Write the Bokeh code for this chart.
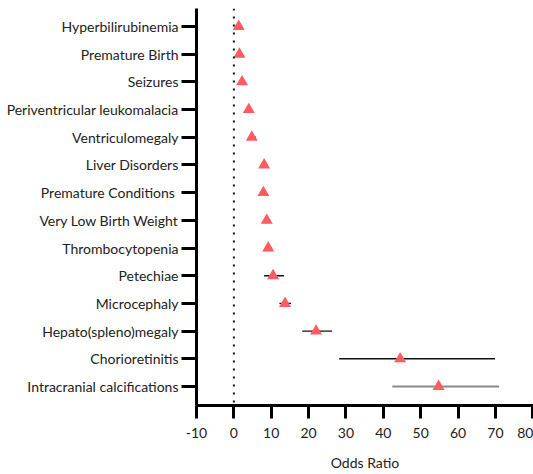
from bokeh.plotting import figure
from bokeh.models import ColumnDataSource, Range1d, FixedTicker, Span
from bokeh.embed import file_html
from bokeh.resources import INLINE

# ---- data (top to bottom) ----
categories = [
    "Hyperbilirubinemia", "Premature Birth", "Seizures",
    "Periventricular leukomalacia", "Ventriculomegaly", "Liver Disorders",
    "Premature Conditions ", "Very Low Birth Weight", "Thrombocytopenia",
    "Petechiae", "Microcephaly", "Hepato(spleno)megaly", "Chorioretinitis",
    "Intracranial calcifications",
]
odds_ratio = [1.3, 1.5, 2.2, 4.0, 4.8, 8.1, 7.9, 8.8, 9.2, 10.5, 13.7, 22.0, 44.5, 54.8]
ci_low = [1.1, 1.3, 1.9, 3.4, 4.0, 7.3, 7.1, 8.0, 8.4, 8.1, 12.2, 18.3, 28.2, 42.4]
ci_high = [1.5, 1.7, 2.5, 4.6, 5.9, 8.9, 8.7, 9.6, 10.0, 13.4, 15.3, 26.3, 69.9, 71.0]
x_ticks = [-10, 0, 10, 20, 30, 40, 50, 60, 70, 80]
x_tick_labels = ["-10", "0", "10", "20", "30", "40", "50", "60", "70", "80"]

n = len(categories)
ypos = [n - 1 - i for i in range(n)]
bar_colors = ["#111111"] * (n - 1) + ["#8a8a8a"]
bar_widths = [1.3] * (n - 2) + [1.4, 2.2]

src = ColumnDataSource(dict(y=ypos, orr=odds_ratio, lo=ci_low, hi=ci_high,
                            c=bar_colors, w=bar_widths))

FONT = "Lato"
TXT = "#222222"

p = figure(width=533, height=474, output_backend="svg", toolbar_location=None,
           x_range=Range1d(-10, 80.2), y_range=Range1d(-0.686, 13.65),
           min_border_left=196, min_border_right=0, min_border_top=8,
           min_border_bottom=69)
p.outline_line_color = None
p.xgrid.visible = False
p.ygrid.visible = False
p.background_fill_color = "white"
p.border_fill_color = "white"

p.add_layout(Span(location=0, dimension="height", line_color="#111111",
                  line_width=2, line_dash="2 6"))

p.segment(x0="lo", x1="hi", y0="y", y1="y", source=src,
          line_color="c", line_width="w")
p.scatter(x="orr", y="y", source=src, marker="triangle", size=12,
          fill_color="#FF5B60", line_color=None)

# x axis
xa = p.xaxis[0]
xa.ticker = FixedTicker(ticks=x_ticks)
xa.major_label_overrides = {t: s for t, s in zip(x_ticks, x_tick_labels)}
xa.axis_line_width = 3
xa.axis_line_color = "black"
xa.major_tick_line_width = 3
xa.major_tick_out = 13
xa.major_tick_in = 0
xa.minor_tick_out = 0
xa.minor_tick_in = 0
xa.major_label_text_font = FONT
xa.major_label_text_font_size = "14px"
xa.major_label_text_color = TXT
xa.major_label_standoff = 9
xa.axis_label = "Odds Ratio"
xa.axis_label_text_font = FONT
xa.axis_label_text_font_size = "14px"
xa.axis_label_text_font_style = "normal"
xa.axis_label_text_color = TXT
xa.axis_label_standoff = 13

# y axis
ya = p.yaxis[0]
ya.ticker = FixedTicker(ticks=ypos)
ya.major_label_overrides = {y: c for y, c in zip(ypos, categories)}
ya.axis_line_width = 3
ya.axis_line_color = "black"
ya.major_tick_line_width = 3
ya.major_tick_out = 15
ya.major_tick_in = 0
ya.minor_tick_out = 0
ya.minor_tick_in = 0
ya.major_label_text_font = FONT
ya.major_label_text_font_size = "14px"
ya.major_label_text_color = TXT
ya.major_label_standoff = 3

open("out.html", "w").write(file_html(p, INLINE))
